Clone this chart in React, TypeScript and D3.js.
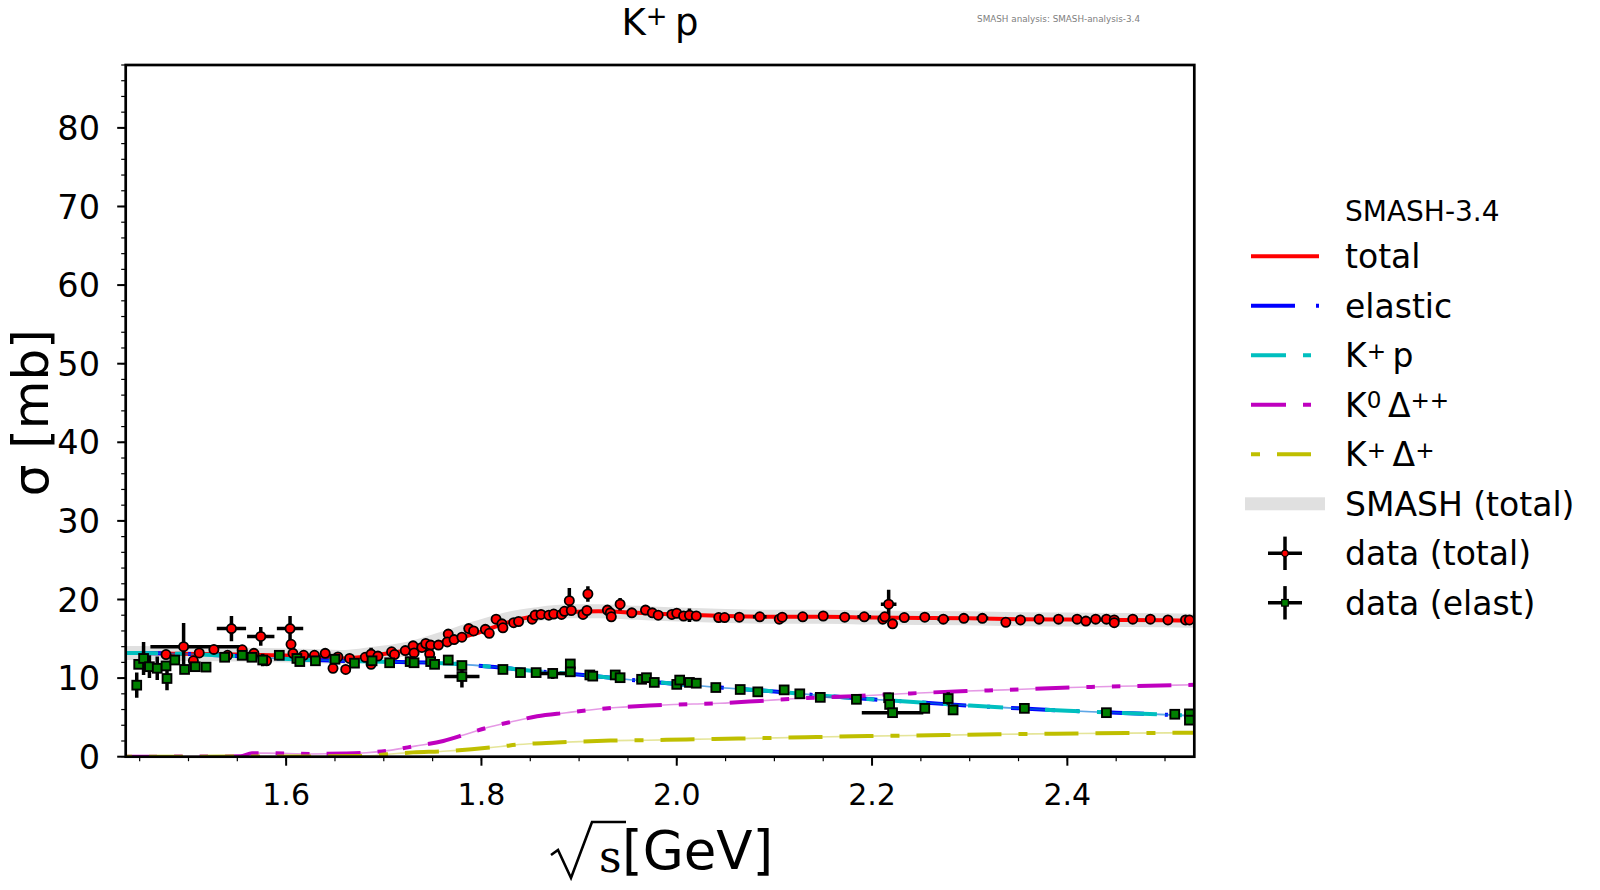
import React from 'react';
import * as d3 from 'd3';

// ---------- axes ----------
const X_DOMAIN: [number, number] = [1.4357, 2.53];
const Y_DOMAIN: [number, number] = [0, 88];
const xMajorTicks = [1.6, 1.8, 2.0, 2.2, 2.4];
const yMajorTicks = [0, 10, 20, 30, 40, 50, 60, 70, 80];

// ---------- SMASH curves ----------
const totalCurveX = [1.433, 1.45, 1.49, 1.55, 1.59, 1.63, 1.66, 1.69, 1.727, 1.76, 1.795, 1.83, 1.855, 1.89, 1.92, 1.96, 2.0, 2.05, 2.1, 2.15, 2.2, 2.25, 2.3, 2.35, 2.4, 2.45, 2.5, 2.53];
const totalCurveY = [13.2, 13.2, 13.1, 13.0, 12.9, 12.7, 12.5, 12.9, 13.6, 14.6, 15.7, 17.2, 17.9, 18.4, 18.5, 18.3, 18.1, 17.9, 17.8, 17.8, 17.7, 17.65, 17.6, 17.5, 17.45, 17.4, 17.35, 17.3];

const bandX = [1.433, 1.45, 1.49, 1.55, 1.59, 1.63, 1.66, 1.69, 1.727, 1.76, 1.795, 1.83, 1.855, 1.89, 1.92, 1.96, 2.0, 2.05, 2.1, 2.15, 2.2, 2.25, 2.3, 2.35, 2.4, 2.45, 2.5, 2.53];
const bandY = [13.2, 13.2, 13.1, 13.0, 12.9, 12.8, 12.7, 13.1, 13.8, 15.0, 16.4, 17.6, 18.1, 18.5, 18.5, 18.3, 18.1, 17.9, 17.8, 17.8, 17.7, 17.65, 17.6, 17.5, 17.45, 17.4, 17.35, 17.3];

const elasticX = [1.433, 1.45, 1.49, 1.55, 1.59, 1.63, 1.69, 1.76, 1.81, 1.855, 1.89, 1.92, 1.96, 2.0, 2.05, 2.1, 2.15, 2.2, 2.25, 2.3, 2.35, 2.4, 2.45, 2.5, 2.53];
const elasticY = [13.2, 13.2, 13.1, 12.8, 12.5, 12.3, 12.1, 11.9, 11.45, 10.9, 10.55, 10.2, 9.7, 9.25, 8.75, 8.3, 7.75, 7.3, 6.9, 6.5, 6.15, 5.85, 5.6, 5.35, 5.2];

const k0DeltaX = [1.433, 1.5, 1.553, 1.565, 1.58, 1.625, 1.66, 1.682, 1.706, 1.732, 1.761, 1.785, 1.809, 1.833, 1.857, 1.887, 1.911, 1.938, 1.972, 2.017, 2.044, 2.085, 2.123, 2.181, 2.23, 2.297, 2.336, 2.403, 2.469, 2.53];
const k0DeltaY = [0, 0.02, 0.05, 0.45, 0.45, 0.35, 0.4, 0.5, 0.8, 1.35, 2.0, 2.9, 3.8, 4.5, 5.15, 5.6, 5.95, 6.25, 6.5, 6.7, 6.8, 7.1, 7.4, 7.7, 8.0, 8.35, 8.5, 8.8, 9.0, 9.15];

const kDeltaX = [1.433, 1.6, 1.68, 1.703, 1.73, 1.761, 1.79, 1.82, 1.838, 1.877, 1.932, 1.969, 2.01, 2.063, 2.102, 2.143, 2.196, 2.275, 2.329, 2.41, 2.461, 2.53];
const kDeltaY = [0, 0.02, 0.1, 0.3, 0.55, 0.7, 0.95, 1.3, 1.55, 1.8, 2.05, 2.1, 2.2, 2.3, 2.4, 2.5, 2.62, 2.75, 2.85, 2.95, 3.0, 3.05];

// ---------- experimental data: [sqrt(s), sigma, yErr, xErrMinus, xErrPlus] ----------
const dataTotal: [number, number, number, number, number][] = [
  [1.477, 13.0, 0, 0, 0], [1.495, 14.0, 3.0, 0.034, 0.06], [1.505, 12.2, 0, 0, 0], [1.511, 13.2, 0, 0, 0],
  [1.526, 13.65, 0, 0, 0], [1.54, 12.9, 0, 0, 0], [1.544, 16.3, 1.6, 0.015, 0.015], [1.555, 13.6, 0, 0, 0],
  [1.567, 13.15, 0, 0, 0], [1.574, 15.3, 1.2, 0.014, 0.014], [1.58, 12.2, 0, 0, 0], [1.604, 16.3, 1.6, 0.0135, 0.0135],
  [1.605, 14.3, 0, 0, 0], [1.607, 13.15, 0, 0, 0], [1.618, 12.9, 0, 0, 0], [1.629, 12.9, 0, 0, 0],
  [1.64, 13.15, 0, 0, 0], [1.648, 11.25, 0, 0, 0], [1.653, 12.7, 0, 0, 0], [1.661, 11.1, 0, 0, 0],
  [1.665, 12.5, 0, 0, 0], [1.681, 12.65, 0, 0, 0], [1.687, 13.05, 0.8, 0, 0], [1.687, 11.75, 0, 0, 0],
  [1.694, 12.8, 0, 0, 0], [1.708, 13.35, 0, 0, 0], [1.711, 13.0, 0, 0, 0], [1.722, 13.5, 0, 0, 0],
  [1.73, 14.1, 0, 0, 0], [1.731, 13.2, 0, 0, 0], [1.739, 13.9, 0, 0, 0], [1.743, 14.4, 0, 0, 0],
  [1.748, 14.2, 0, 0, 0], [1.747, 13.05, 0, 0, 0], [1.756, 14.2, 0, 0, 0], [1.766, 15.6, 0, 0, 0],
  [1.765, 14.6, 0, 0, 0], [1.772, 14.9, 0, 0, 0], [1.78, 15.2, 0, 0, 0], [1.787, 16.3, 0, 0, 0],
  [1.792, 16.0, 0, 0, 0], [1.804, 16.2, 0, 0, 0], [1.808, 15.7, 0, 0, 0], [1.815, 17.5, 0, 0, 0],
  [1.821, 16.9, 0, 0, 0], [1.822, 16.4, 0, 0, 0], [1.833, 17.05, 0, 0, 0], [1.838, 17.2, 0, 0, 0],
  [1.852, 17.5, 0, 0, 0], [1.855, 18.0, 0.7, 0, 0], [1.861, 18.1, 0, 0, 0], [1.869, 18.0, 0, 0, 0],
  [1.874, 18.15, 0, 0, 0], [1.882, 18.1, 0, 0, 0], [1.885, 18.5, 0, 0, 0], [1.89, 19.85, 1.6, 0, 0],
  [1.892, 18.6, 0, 0, 0], [1.904, 18.1, 0, 0, 0], [1.908, 18.6, 0, 0, 0], [1.909, 20.7, 1.0, 0, 0],
  [1.929, 18.65, 0, 0, 0], [1.932, 18.3, 0, 0, 0], [1.933, 17.8, 0, 0, 0], [1.942, 19.4, 0.8, 0, 0],
  [1.954, 18.3, 0, 0, 0], [1.968, 18.65, 0, 0, 0], [1.975, 18.3, 0, 0, 0], [1.981, 18.0, 0, 0, 0],
  [1.995, 18.1, 0, 0, 0], [2.0, 18.25, 0, 0, 0], [2.007, 17.9, 0, 0, 0], [2.013, 18.0, 0.85, 0.008, 0.008],
  [2.02, 17.9, 0, 0, 0], [2.043, 17.7, 0, 0, 0], [2.049, 17.7, 0, 0, 0], [2.064, 17.75, 0, 0, 0],
  [2.085, 17.8, 0, 0.007, 0.007], [2.105, 17.5, 0, 0, 0], [2.108, 17.75, 0, 0, 0], [2.129, 17.8, 0, 0, 0],
  [2.15, 17.9, 0, 0, 0], [2.172, 17.75, 0, 0, 0], [2.192, 17.8, 0, 0.007, 0.007], [2.211, 17.5, 0, 0, 0],
  [2.213, 17.8, 0, 0, 0], [2.217, 19.4, 1.85, 0.008, 0.008], [2.221, 16.9, 0, 0, 0], [2.233, 17.7, 0, 0, 0],
  [2.254, 17.75, 0, 0, 0], [2.273, 17.5, 0, 0.006, 0.006], [2.294, 17.6, 0, 0, 0], [2.313, 17.6, 0, 0.006, 0.006],
  [2.337, 17.1, 0, 0, 0], [2.352, 17.4, 0, 0, 0], [2.371, 17.5, 0, 0, 0], [2.391, 17.5, 0, 0, 0],
  [2.41, 17.5, 0, 0, 0], [2.419, 17.25, 0, 0, 0], [2.429, 17.5, 0, 0, 0], [2.44, 17.5, 0, 0, 0],
  [2.448, 17.4, 0, 0, 0], [2.448, 17.05, 0, 0, 0], [2.467, 17.5, 0, 0, 0], [2.485, 17.5, 0, 0, 0],
  [2.503, 17.4, 0, 0, 0], [2.521, 17.4, 0, 0, 0], [2.525, 17.4, 0, 0, 0],
];

const dataElastic: [number, number, number, number, number][] = [
  [1.447, 9.1, 1.6, 0, 0], [1.449, 11.75, 0, 0, 0], [1.454, 12.5, 2.1, 0, 0], [1.46, 11.45, 1.45, 0, 0],
  [1.468, 11.25, 1.5, 0, 0], [1.477, 11.55, 0, 0, 0], [1.478, 9.95, 1.5, 0, 0], [1.486, 12.3, 0, 0, 0],
  [1.496, 11.1, 0, 0, 0], [1.507, 11.45, 0.6, 0, 0], [1.518, 11.4, 0, 0, 0], [1.537, 12.65, 0, 0, 0],
  [1.555, 12.9, 0, 0, 0], [1.565, 12.65, 0, 0, 0], [1.576, 12.3, 0.8, 0, 0], [1.593, 12.9, 0, 0, 0],
  [1.611, 12.5, 0, 0, 0], [1.614, 12.1, 0, 0, 0], [1.63, 12.2, 0, 0, 0], [1.65, 12.4, 0, 0, 0],
  [1.67, 11.9, 0, 0, 0], [1.688, 12.2, 0, 0, 0], [1.706, 11.95, 0, 0, 0], [1.727, 12.1, 0, 0, 0],
  [1.731, 11.95, 0, 0, 0], [1.748, 12.1, 0, 0, 0], [1.752, 11.75, 0, 0, 0], [1.766, 12.3, 0, 0, 0],
  [1.78, 11.6, 0, 0, 0], [1.78, 10.2, 1.4, 0.018, 0.018], [1.822, 11.1, 0, 0, 0], [1.84, 10.7, 0, 0, 0],
  [1.856, 10.7, 0, 0, 0], [1.873, 10.6, 0.7, 0.0135, 0.0135], [1.891, 11.8, 0, 0, 0], [1.891, 10.8, 0, 0, 0],
  [1.911, 10.4, 0, 0, 0], [1.914, 10.25, 0, 0, 0], [1.937, 10.4, 0, 0, 0], [1.942, 10.05, 0, 0, 0],
  [1.964, 9.85, 0, 0, 0], [1.969, 10.05, 0, 0, 0], [1.977, 9.45, 0, 0, 0], [2.0, 9.2, 0, 0, 0],
  [2.003, 9.75, 0, 0, 0], [2.013, 9.45, 0, 0, 0], [2.02, 9.35, 0, 0, 0], [2.04, 8.8, 0, 0, 0],
  [2.065, 8.55, 0, 0, 0], [2.083, 8.25, 0, 0, 0], [2.11, 8.5, 0, 0, 0], [2.126, 8.0, 0, 0, 0],
  [2.147, 7.55, 0, 0, 0], [2.184, 7.3, 0, 0, 0], [2.217, 7.5, 0, 0, 0], [2.218, 6.65, 0, 0, 0],
  [2.221, 5.6, 0, 0.0315, 0.0315], [2.254, 6.15, 0, 0, 0], [2.278, 7.4, 0.8, 0, 0], [2.283, 5.95, 0, 0, 0],
  [2.356, 6.15, 0, 0, 0], [2.44, 5.6, 0.5, 0, 0], [2.51, 5.4, 0, 0, 0], [2.525, 5.45, 0, 0, 0],
  [2.525, 4.65, 0, 0, 0],
];

// ---------- legend ----------
const legendTitle = 'SMASH-3.4';
const legendLabels = ['total', 'elastic', 'K+ p', 'K0 Δ++', 'K+ Δ+', 'SMASH (total)', 'data (total)', 'data (elast)'];

const FONT = '"DejaVu Sans", Verdana, sans-serif';
const C = {
  red: '#ff0000',
  blue: '#0000ff',
  cyan: '#00bfbf',
  magenta: '#bf00bf',
  yellow: '#bfbf00',
  green: '#008000',
  band: '#e0e0e0',
};

const W = 1600;
const H = 890;
const plot = { left: 125.7, right: 1194.3, top: 65, bottom: 756.7 };

function zip(xs: number[], ys: number[]): [number, number][] {
  return xs.map((x, i) => [x, ys[i]] as [number, number]);
}

// Label with superscripts: parts of [text, isSup]
function RichLabel({ x, y, size, parts, anchor }: { x: number; y: number; size: number; parts: [string, boolean][]; anchor?: string }) {
  const supShift = size * 0.26;
  let cur = 0;
  const spans: React.ReactNode[] = [];
  parts.forEach(([t, sup], i) => {
    const target = sup ? -supShift : 0;
    const dy = target - cur;
    cur = target;
    spans.push(
      <tspan key={i} dy={dy} fontSize={sup ? size * 0.7 : size}>
        {t}
      </tspan>
    );
  });
  return (
    <text x={x} y={y} fontFamily={FONT} fontSize={size} textAnchor={anchor || 'start'} fill="#000">
      {spans}
    </text>
  );
}

const labelParts: Record<string, [string, boolean][]> = {
  'K+ p': [['K', false], ['+', true], ['\u2009p', false]],
  'K0 Δ++': [['K', false], ['0', true], ['\u2009Δ', false], ['++', true]],
  'K+ Δ+': [['K', false], ['+', true], ['\u2009Δ', false], ['+', true]],
};

export default function App() {
  const x = d3.scaleLinear().domain(X_DOMAIN).range([plot.left, plot.right]);
  const y = d3.scaleLinear().domain(Y_DOMAIN).range([plot.bottom, plot.top]);
  const line = d3
    .line<[number, number]>()
    .x((d) => x(d[0]))
    .y((d) => y(d[1]))
    .curve(d3.curveMonotoneX);

  const xMinor = d3.range(1.45, 2.5301, 0.05).filter((v) => v >= X_DOMAIN[0] && v <= X_DOMAIN[1]);
  const yMinor = d3.range(0, 88.01, 2);

  const curves = [
    { pts: zip(totalCurveX, totalCurveY), color: C.red, dash: '' },
    { pts: zip(elasticX, elasticY), color: C.blue, dash: '44 21 3 21' },
    { pts: zip(elasticX, elasticY), color: C.cyan, dash: '35 17 8 17' },
    { pts: zip(k0DeltaX, k0DeltaY), color: C.magenta, dash: '34 17 8.5 17 8.5 17' },
    { pts: zip(kDeltaX, kDeltaY), color: C.yellow, dash: '9 17 34 17 34 17' },
  ];

  const renderErr = (d: [number, number, number, number, number], i: number) => {
    const [vx, vy, ey, exm, exp] = d;
    return (
      <g key={i}>
        {ey > 0 && <line x1={x(vx)} x2={x(vx)} y1={y(vy - ey)} y2={y(vy + ey)} stroke="#000" strokeWidth={3.5} />}
        {exm + exp > 0 && <line x1={x(vx - exm)} x2={x(vx + exp)} y1={y(vy)} y2={y(vy)} stroke="#000" strokeWidth={3.5} />}
      </g>
    );
  };

  const cx = (plot.left + plot.right) / 2;
  const cy = (plot.top + plot.bottom) / 2;

  const legX1 = 1251;
  const legX2 = 1319;
  const legText = 1345;
  const legRow0 = 256.3;
  const legStep = 49.5;

  return (
    <svg width={W} height={H} style={{ position: 'absolute', left: 0, top: 0, background: '#fff' }} xmlns="http://www.w3.org/2000/svg">
      <defs>
        <clipPath id="plotclip">
          <rect x={plot.left} y={plot.top} width={plot.right - plot.left} height={plot.bottom - plot.top} />
        </clipPath>
      </defs>
      <rect x={0} y={0} width={W} height={H} fill="#fff" />

      {/* title */}
      <RichLabel x={cx} y={35} size={37} anchor="middle" parts={[['K', false], ['+', true], ['\u2009p', false]]} />
      <text x={1140} y={22} fontFamily={FONT} fontSize={8.8} fill="#808080" textAnchor="end">
        SMASH analysis: SMASH-analysis-3.4
      </text>

      <g clipPath="url(#plotclip)">
        {/* SMASH (total) band */}
        <path d={line(zip(bandX, bandY)) || ''} fill="none" stroke={C.band} strokeWidth={14} strokeLinejoin="round" />
        {curves.map((c, i) => (
          <g key={i}>
            <path d={line(c.pts) || ''} fill="none" stroke={c.color} strokeOpacity={0.4} strokeWidth={1.6} />
            <path d={line(c.pts) || ''} fill="none" stroke={c.color} strokeWidth={4} strokeDasharray={c.dash || undefined} />
          </g>
        ))}
        {/* data */}
        {dataTotal.map(renderErr)}
        {dataTotal.map((d, i) => (
          <circle key={i} cx={x(d[0])} cy={y(d[1])} r={4.6} fill={C.red} stroke="#000" strokeWidth={1.8} />
        ))}
        {dataElastic.map(renderErr)}
        {dataElastic.map((d, i) => (
          <rect key={i} x={x(d[0]) - 4.4} y={y(d[1]) - 4.4} width={8.8} height={8.8} fill={C.green} stroke="#000" strokeWidth={1.9} />
        ))}
      </g>

      {/* spines */}
      <rect x={plot.left} y={plot.top} width={plot.right - plot.left} height={plot.bottom - plot.top} fill="none" stroke="#000" strokeWidth={2.7} />

      {/* y ticks */}
      {yMinor.map((v) => (
        <line key={'ym' + v} x1={plot.left - 4.5} x2={plot.left} y1={y(v)} y2={y(v)} stroke="#000" strokeWidth={1.2} />
      ))}
      {yMajorTicks.map((v) => (
        <g key={'yM' + v}>
          <line x1={plot.left - 8.5} x2={plot.left} y1={y(v)} y2={y(v)} stroke="#000" strokeWidth={2} />
          <text x={100} y={y(v)} dy="0.36em" fontFamily={FONT} fontSize={33.5} textAnchor="end" fill="#000">
            {v}
          </text>
        </g>
      ))}

      {/* x ticks */}
      {xMinor.map((v) => (
        <line key={'xm' + v} x1={x(v)} x2={x(v)} y1={plot.bottom} y2={plot.bottom + 4.5} stroke="#000" strokeWidth={1.2} />
      ))}
      {xMajorTicks.map((v) => (
        <g key={'xM' + v}>
          <line x1={x(v)} x2={x(v)} y1={plot.bottom} y2={plot.bottom + 9} stroke="#000" strokeWidth={2} />
          <text x={x(v)} y={805} fontFamily={FONT} fontSize={30} textAnchor="middle" fill="#000">
            {d3.format('.1f')(v)}
          </text>
        </g>
      ))}

      {/* y label */}
      <text transform={`translate(48, ${cy + 2}) rotate(-90)`} fontFamily={FONT} fontSize={50} textAnchor="middle" fill="#000">
        σ [mb]
      </text>

      {/* x label: sqrt(s) [GeV] */}
      <path
        d={`M ${cx - 109} ${855} L ${cx - 102} ${850} L ${cx - 89} ${878} L ${cx - 68} ${822} L ${cx - 34} ${822}`}
        fill="none"
        stroke="#000"
        strokeWidth={2.6}
        strokeLinejoin="miter"
      />
      <text x={cx - 61} y={872} fontFamily='"DejaVu Serif", "Liberation Serif", serif' fontSize={44} fill="#000">
        s
      </text>
      <text x={cx - 38} y={869} fontFamily={FONT} fontSize={53} fill="#000">
        [GeV]
      </text>

      {/* legend */}
      <text x={legText} y={220.7} fontFamily={FONT} fontSize={28} fill="#000">
        {legendTitle}
      </text>
      {legendLabels.map((lab, i) => {
        const ry = legRow0 + i * legStep;
        let handle: React.ReactNode = null;
        if (i === 0) handle = <line x1={legX1} x2={legX2} y1={ry} y2={ry} stroke={C.red} strokeWidth={4} />;
        if (i === 1) handle = <line x1={legX1} x2={legX2} y1={ry} y2={ry} stroke={C.blue} strokeWidth={4} strokeDasharray="44 21 3 21" />;
        if (i === 2) handle = <line x1={legX1} x2={legX2} y1={ry} y2={ry} stroke={C.cyan} strokeWidth={4} strokeDasharray="35 17 8 17" />;
        if (i === 3) handle = <line x1={legX1} x2={legX2} y1={ry} y2={ry} stroke={C.magenta} strokeWidth={4} strokeDasharray="35 17 8 17" />;
        if (i === 4) handle = <line x1={legX1} x2={legX2} y1={ry} y2={ry} stroke={C.yellow} strokeWidth={4} strokeDasharray="9 17 34 17" />;
        if (i === 5) handle = <rect x={1245} y={ry - 6.5} width={80} height={13} fill={C.band} />;
        if (i === 6 || i === 7) {
          const mx = 1285;
          handle = (
            <g>
              <line x1={mx - 17} x2={mx + 17} y1={ry} y2={ry} stroke="#000" strokeWidth={3.5} />
              <line x1={mx} x2={mx} y1={ry - 16.7} y2={ry + 16.7} stroke="#000" strokeWidth={3.5} />
              {i === 6 ? (
                <circle cx={mx} cy={ry} r={3.2} fill={C.red} stroke="#000" strokeWidth={1.2} />
              ) : (
                <rect x={mx - 3.3} y={ry - 3.3} width={6.6} height={6.6} fill={C.green} stroke="#000" strokeWidth={1.2} />
              )}
            </g>
          );
        }
        const parts = labelParts[lab];
        return (
          <g key={lab}>
            {handle}
            {parts ? (
              <RichLabel x={legText} y={ry + 12} size={33} parts={parts} />
            ) : (
              <text x={legText} y={ry + 12} fontFamily={FONT} fontSize={33} fill="#000">
                {lab}
              </text>
            )}
          </g>
        );
      })}
    </svg>
  );
}
